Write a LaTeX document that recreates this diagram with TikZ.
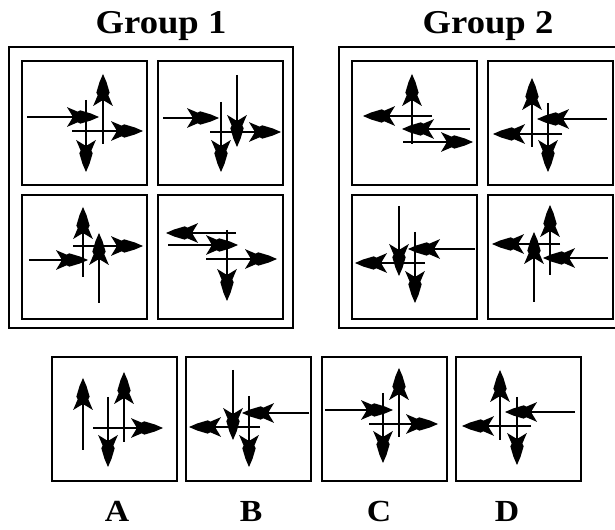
\documentclass[tikz,border=0pt]{standalone}
\usepackage{fontspec}
\setmainfont{Liberation Serif}
\usetikzlibrary{arrows.meta}

\pgfdeclarearrow{
  name = Barb,
  setup code = {
    \pgfarrowssettipend{0pt}
    \pgfarrowssetlineend{-12pt}
    \pgfarrowssetbackend{-24pt}
    \pgfarrowshullpoint{0pt}{0pt}
    \pgfarrowsupperhullpoint{-24pt}{7.4pt}
  },
  drawing code = {
    \pgfpathmoveto{\pgfpoint{0pt}{0pt}}
    \pgfpathlineto{\pgfpoint{-6pt}{2.6pt}}
    \pgfpathlineto{\pgfpoint{-14pt}{5pt}}
    \pgfpathlineto{\pgfpoint{-16pt}{4pt}}
    \pgfpathlineto{\pgfpoint{-24pt}{7.4pt}}
    \pgfpathlineto{\pgfpoint{-19.5pt}{0pt}}
    \pgfpathlineto{\pgfpoint{-24pt}{-7.4pt}}
    \pgfpathlineto{\pgfpoint{-16pt}{-4pt}}
    \pgfpathlineto{\pgfpoint{-14pt}{-5pt}}
    \pgfpathlineto{\pgfpoint{-6pt}{-2.6pt}}
    \pgfpathclose
    \pgfusepathqfill
  }
}

\begin{document}
\begin{tikzpicture}[x=0.75pt,y=0.75pt,yscale=-1,xscale=1,
    panel/.style={line width=1.5pt},
    frame/.style={line width=1.4pt},
    arr/.style={line width=1.2pt,-{Barb}},
    title/.style={inner sep=0.75pt,anchor=base,xscale=1.1,font=\bfseries\fontsize{25}{30}\selectfont},
    letter/.style={inner sep=0.75pt,anchor=base,xscale=1.1,font=\bfseries\fontsize{23}{27}\selectfont}]
    \path[use as bounding box] (0,0) rectangle (615,530);
    % Text Node
    \draw (161,34) node [title] (grpone) {Group 1};
    % Text Node
    \draw (488,34) node [title] (grptwo) {Group 2};
    %Shape: Rectangle
    \draw [frame] (9,47) rectangle (293,328) ;
    %Shape: Open Frame
    \draw [frame] (615,47) -- (339,47) -- (339,328) -- (615,328) ;
    %Shape: Rectangle
    \draw [panel] (22,61) rectangle (147,185) ;
    \draw [panel] (158,61) rectangle (283,185) ;
    \draw [panel] (22,195) rectangle (147,319) ;
    \draw [panel] (158,195) rectangle (283,319) ;
    \draw [panel] (352,61) rectangle (477,185) ;
    \draw [panel] (488,61) rectangle (613,185) ;
    \draw [panel] (352,195) rectangle (477,319) ;
    \draw [panel] (488,195) rectangle (613,319) ;
    \draw [panel] (52,357) rectangle (177,481) ;
    \draw [panel] (186,357) rectangle (311,481) ;
    \draw [panel] (322,357) rectangle (447,481) ;
    \draw [panel] (456,357) rectangle (581,481) ;
    %Straight Lines: group 1, top left
    \draw [arr] (27,117) -- (99,117) ;
    \draw [arr] (86,100) -- (86,172) ;
    \draw [arr] (103,144) -- (103,74) ;
    \draw [arr] (72,131) -- (143,131) ;
    %Straight Lines: group 1, top right
    \draw [arr] (163,118) -- (219,118) ;
    \draw [arr] (221,102) -- (221,172) ;
    \draw [arr] (237,75) -- (237,147) ;
    \draw [arr] (210,132) -- (281,132) ;
    %Straight Lines: group 1, bottom left
    \draw [arr] (83,277) -- (83,207) ;
    \draw [arr] (29,260) -- (88,260) ;
    \draw [arr] (99,303) -- (99,233) ;
    \draw [arr] (73,246) -- (143,246) ;
    %Straight Lines: group 1, bottom right
    \draw [arr] (236,233) -- (166,233) ;
    \draw [arr] (168,245) -- (238,245) ;
    \draw [arr] (227,230) -- (227,301) ;
    \draw [arr] (206,259) -- (277,259) ;
    %Straight Lines: group 2, top left
    \draw [arr] (412,144) -- (412,74) ;
    \draw [arr] (432,116) -- (363,116) ;
    \draw [arr] (470,129) -- (402,129) ;
    \draw [arr] (403,142) -- (473,142) ;
    %Straight Lines: group 2, top right
    \draw [arr] (532,147) -- (532,78) ;
    \draw [arr] (607,119) -- (537,119) ;
    \draw [arr] (548,103) -- (548,172) ;
    \draw [arr] (562,134) -- (493,134) ;
    %Straight Lines: group 2, bottom left
    \draw [arr] (399,206) -- (399,276) ;
    \draw [arr] (475,249) -- (408,249) ;
    \draw [arr] (425,263) -- (355,263) ;
    \draw [arr] (415,232) -- (415,303) ;
    %Straight Lines: group 2, bottom right
    \draw [arr] (550,275) -- (550,205) ;
    \draw [arr] (560,244) -- (492,244) ;
    \draw [arr] (534,302) -- (534,232) ;
    \draw [arr] (608,258) -- (543,258) ;
    %Straight Lines: A
    \draw [arr] (83,450) -- (83,378) ;
    \draw [arr] (108,397) -- (108,467) ;
    \draw [arr] (124,442) -- (124,372) ;
    \draw [arr] (93,428) -- (163,428) ;
    %Straight Lines: B
    \draw [arr] (233,370) -- (233,440) ;
    \draw [arr] (309,413) -- (242,413) ;
    \draw [arr] (260,427) -- (189,427) ;
    \draw [arr] (249,396) -- (249,467) ;
    %Straight Lines: C
    \draw [arr] (325,410) -- (393,410) ;
    \draw [arr] (399,437) -- (399,368) ;
    \draw [arr] (383,393) -- (383,463) ;
    \draw [arr] (369,424) -- (438,424) ;
    %Straight Lines: D
    \draw [arr] (500,440) -- (500,370) ;
    \draw [arr] (575,412) -- (505,412) ;
    \draw [arr] (517,397) -- (517,465) ;
    \draw [arr] (531,426) -- (462,426) ;
    % Text Node
    \draw (117,522) node [letter] (optA) {A};
    % Text Node
    \draw (251,522) node [letter] (optB) {B};
    % Text Node
    \draw (379,522) node [letter] (optC) {C};
    % Text Node
    \draw (507,522) node [letter] (optD) {D};
\end{tikzpicture}
\end{document}
